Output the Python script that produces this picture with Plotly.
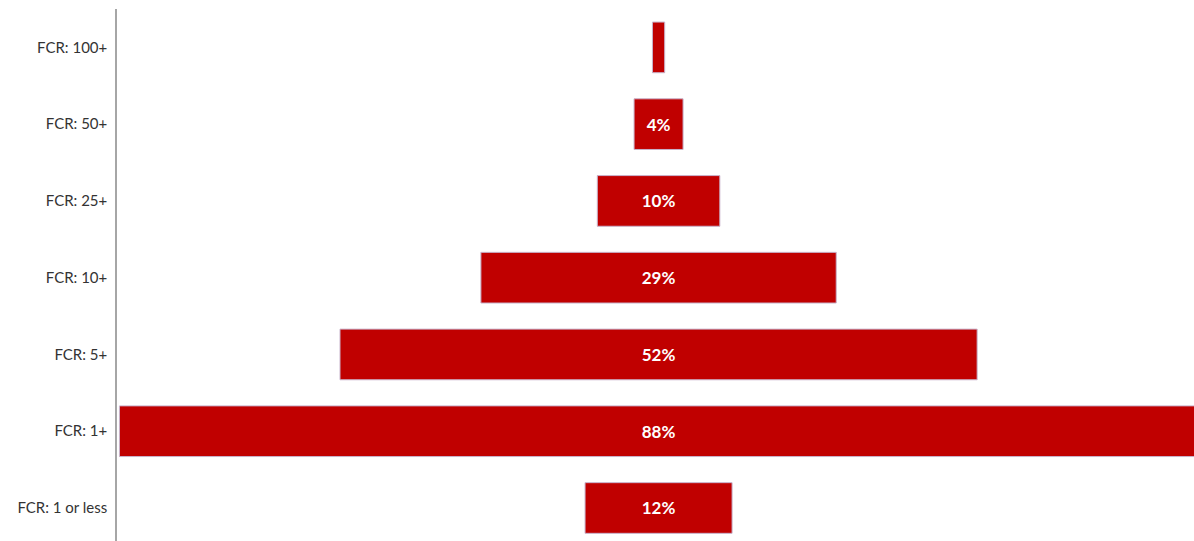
import plotly.graph_objects as go

# Share of items by FCR band
stages = ["FCR: 100+", "FCR: 50+", "FCR: 25+", "FCR: 10+", "FCR: 5+", "FCR: 1+", "FCR: 1 or less"]
shares = [1, 4, 10, 29, 52, 88, 12]
labels = ["", "4%", "10%", "29%", "52%", "88%", "12%"]

fig = go.Figure(
    go.Funnel(
        y=stages,
        x=shares,
        text=labels,
        texttemplate="%{text}",
        textposition="inside",
        insidetextanchor="middle",
        textfont=dict(family="Lato", size=17, color="white", weight="bold"),
        marker=dict(color="#C00000", line=dict(color="#C8B4CC", width=1)),
        connector=dict(visible=False),
        hoverinfo="y+x",
    )
)

fig.update_layout(
    width=1194,
    height=541,
    margin=dict(l=117, r=0, t=9, b=0),
    paper_bgcolor="white",
    plot_bgcolor="white",
    showlegend=False,
    funnelgap=0.34,
    font=dict(family="Lato", size=15, color="#333333"),
)
fig.update_xaxes(range=[-44.2, 43.7], visible=False, fixedrange=True)
fig.update_yaxes(
    range=[6.43, -0.5],
    showline=True,
    linecolor="#A6A6A6",
    linewidth=1.5,
    ticks="",
    ticklabelstandoff=5,
    showgrid=False,
    tickfont=dict(family="Lato", size=15, color="#333333"),
)

fig.write_html("out.html")
